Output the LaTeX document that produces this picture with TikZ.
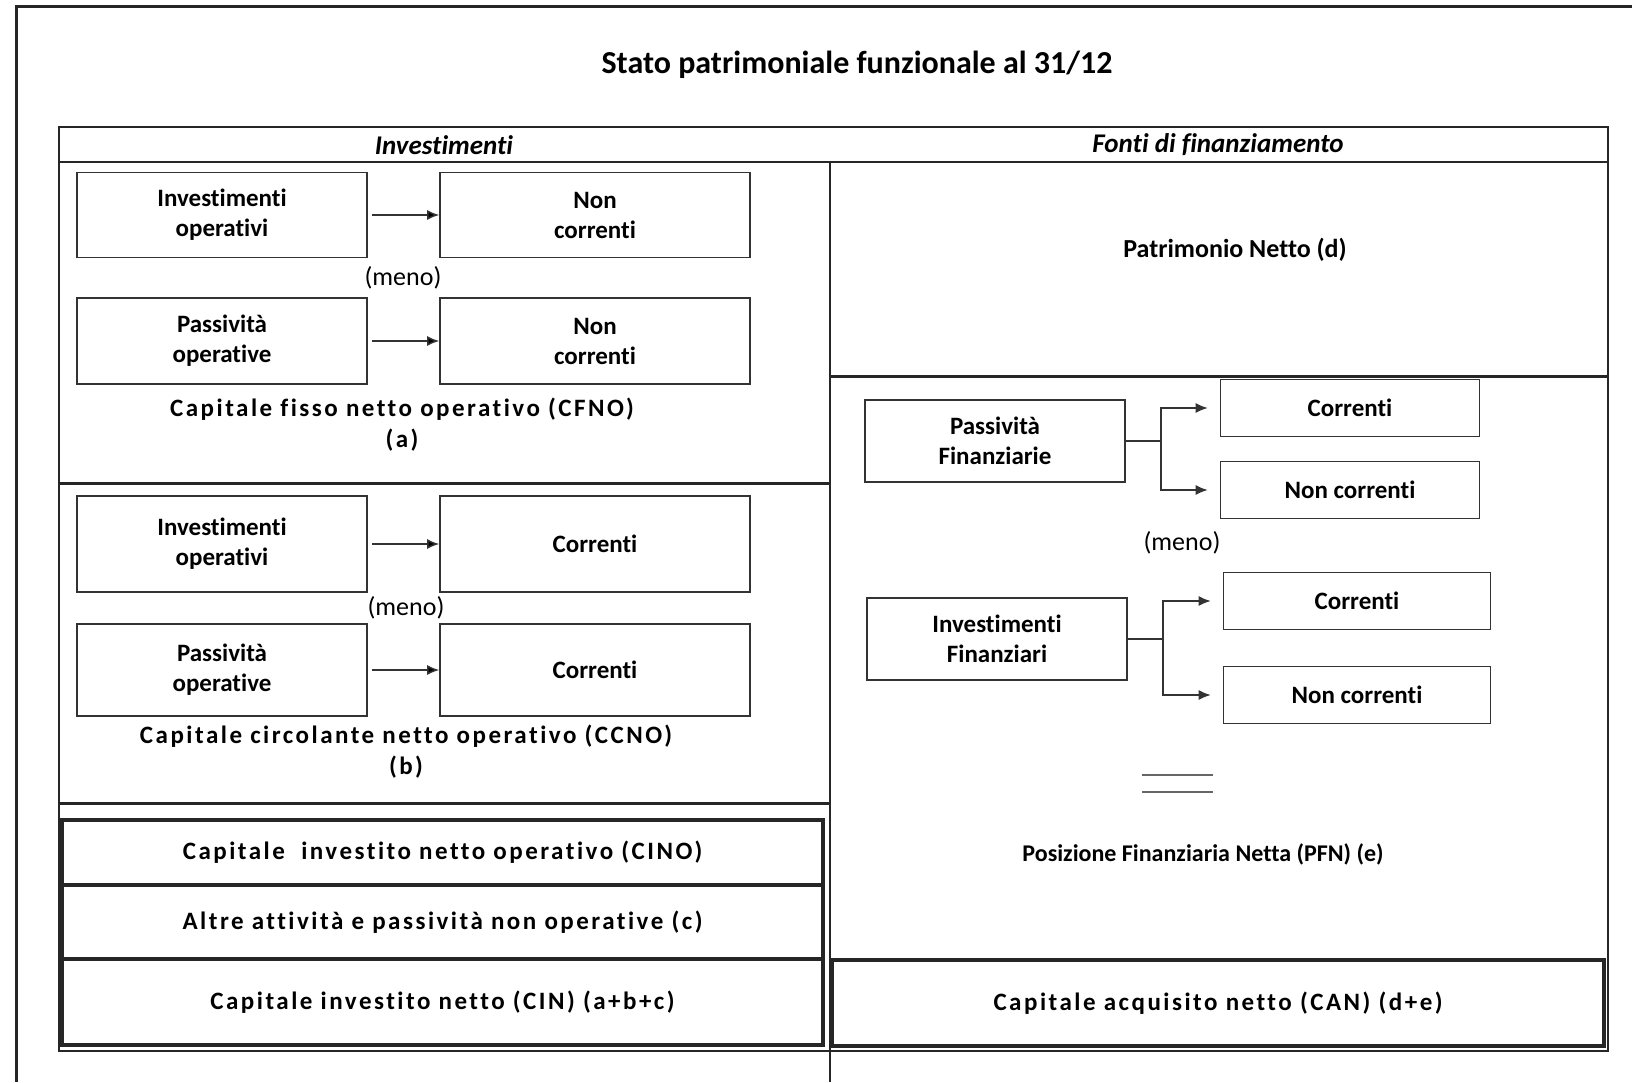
\documentclass[tikz,border=0pt]{standalone}
\usepackage{fontspec}
\setmainfont[Ligatures=CommonOff]{Carlito}
\newfontfamily\spacedfont[LetterSpace=10,Ligatures=CommonOff]{Carlito}
\usetikzlibrary{arrows.meta}

\begin{document}
\begin{tikzpicture}[x=0.5pt, y=-0.5pt, line width=0.8pt, font=\fontsize{12.5}{15}\selectfont\bfseries]
   \useasboundingbox (0,0) rectangle (1632,1082);
   \tikzstyle{box}=[draw=black!80, align=center, inner sep=0pt]
   \tikzstyle{arr}=[-{Latex[length=6pt,width=5pt]}, draw=black!80, line width=0.7pt]
   \tikzstyle{thin}=[draw=black!85, line width=1pt]
   \tikzstyle{heavy}=[draw=black!85, line width=1.5pt]
   \tikzstyle{meno}=[font=\fontsize{13}{15}\selectfont]
   \tikzstyle{head}=[font=\fontsize{13.5}{15}\selectfont\bfseries\itshape]
   \tikzstyle{spaced}=[font=\fontsize{12.5}{15.5}\selectfont\spacedfont\bfseries, align=center]
   \tikzstyle{total}=[draw=black!85, line width=1.6pt, spaced]
   \draw[heavy] (16,1082) -- (16,6) -- (1632,6);
   \node[font=\fontsize{16}{18}\selectfont\bfseries] (title) at (857,65) {Stato patrimoniale funzionale al 31/12};
   \draw[thin] (59,127) rectangle (1608,1051);
   \draw[thin] (59,162) -- (1608,162);
   \draw[thin] (830,162) -- (830,1082);
   \draw[heavy] (59,483) -- (830,483);
   \draw[heavy] (59,803) -- (830,803);
   \draw[heavy] (830,376) -- (1608,376);
   \node[head] (inv) at (444,145) {Investimenti};
   \node[head] (fonti) at (1218,145) {Fonti di finanziamento};
   \foreach \r/\y/\h/\src/\dst in {1/215/85/{Investimenti\\operativi}/{Non\\correnti},
                                  2/341/86/{Passività\\operative}/{Non\\correnti},
                                  3/544/96/{Investimenti\\operativi}/Correnti,
                                  4/670/92/{Passività\\operative}/Correnti} {
       \node[box, minimum width=145pt, minimum height=\h*0.5pt] (l\r) at (222,\y) {\src};
       \node[box, minimum width=155pt, minimum height=\h*0.5pt] (r\r) at (595,\y) {\dst};
       \path[arr, shorten <=2pt] (l\r) edge (r\r);
   }
   \node[meno] (meno1) at (403,278) {(meno)};
   \node[meno] (meno2) at (406,608) {(meno)};
   \node[spaced] (cfno) at (402,425) {Capitale fisso netto operativo (CFNO)\\(a)};
   \node[spaced] (ccno) at (406,752) {Capitale circolante netto operativo (CCNO)\\(b)};
   \node[total, minimum width=380.5pt, minimum height=32.5pt] (cino) at (442.5,852.5) {Capitale \ investito netto operativo (CINO)};
   \node[total, minimum width=380.5pt, minimum height=37pt] (altre) at (442.5,922) {Altre attività e passività non operative (c)};
   \node[total, minimum width=380.5pt, minimum height=43pt] (cin) at (442.5,1002) {Capitale investito netto (CIN) (a+b+c)};
   \node[font=\fontsize{13}{15}\selectfont\bfseries] (pn) at (1235,250) {Patrimonio Netto (d)};
   \foreach \g/\x/\y/\cx/\w/\cy/\ny/\word in {pf/995/441/1350/129.5pt/408/490/{Passività\\Finanziarie},
                                             if/997/639/1357/133.5pt/601/695/{Investimenti\\Finanziari}} {
       \node[box, minimum width=130pt, minimum height=41pt] (\g) at (\x,\y) {\word};
       \node[box, minimum width=\w, minimum height=28.5pt] (\g c) at (\cx,\cy) {Correnti};
       \node[box, minimum width=\w, minimum height=28.5pt] (\g n) at (\cx,\ny) {Non correnti};
       \draw[arr] (\g.east) -- ++(35,0) coordinate (\g j) |- ([xshift=-6pt]\g c.west);
       \draw[arr] (\g j) |- ([xshift=-6pt]\g n.west);
   }
   \node[meno] (meno3) at (1182,543) {(meno)};
   \draw[draw=black!60, line width=1pt] (1142,775) -- (1213,775) (1142,792) -- (1213,792);
   \node[font=\fontsize{12}{15}\selectfont\bfseries] (pfnetta) at (1203,854) {Posizione Finanziaria Netta (PFN) (e)};
   \node[total, minimum width=386pt, minimum height=43pt] (can) at (1218,1003) {Capitale acquisito netto (CAN) (d+e)};
\end{tikzpicture}
\end{document}
